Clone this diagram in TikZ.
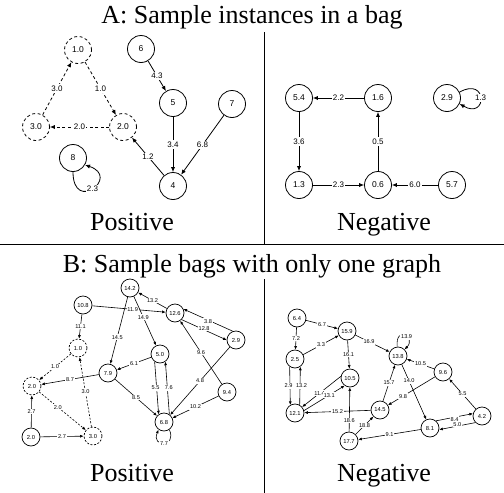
\documentclass[tikz,border=0pt]{standalone}
\usepackage{fontspec}
\setmainfont{Liberation Serif}
\newfontfamily\lblfont{Liberation Sans}
\usetikzlibrary{arrows.meta}
\begin{document}
\begin{tikzpicture}[x=1pt,y=-1pt,
 bignode/.style={circle,draw,line width=0.8pt,minimum size=27pt,inner sep=0pt,font=\lblfont\fontsize{8.5}{9}\selectfont},
 bigdash/.style={bignode,dash pattern=on 3pt off 2.5pt},
 smallnode/.style={circle,draw,line width=0.7pt,minimum size=18pt,inner sep=0pt,font=\lblfont\fontsize{5.8}{6}\selectfont},
 smalldash/.style={smallnode,dash pattern=on 2pt off 1.6pt},
 bigedge/.style={line width=0.8pt,-{Latex[length=5pt,width=4.2pt]}},
 bigdline/.style={bigedge,dash pattern=on 3pt off 2.5pt},
 smalledge/.style={line width=0.6pt,-{Latex[length=3.6pt,width=3pt]}},
 smalldline/.style={smalledge,dash pattern=on 2pt off 1.6pt},
 biglbl/.style={fill=white,inner sep=1.2pt,font=\lblfont\fontsize{8}{9}\selectfont},
 smalllbl/.style={fill=white,inner sep=0.8pt,font=\lblfont\fontsize{5.6}{6}\selectfont},
 title/.style={font=\fontsize{26}{28}\selectfont,anchor=base,inner sep=0pt},
 frame/.style={line width=0.8pt}
]
\useasboundingbox (0,0) rectangle (504,493);
% titles and frame
\node[title] (ta) at (252,23) {A: Sample instances in a bag};
\node[title] (pa) at (132,230) {Positive};
\node[title] (na) at (384,230) {Negative};
\node[title] (tb) at (252,272) {B: Sample bags with only one graph};
\node[title] (pb) at (132,481) {Positive};
\node[title] (nb) at (384,481) {Negative};
\coordinate (h1) at (0,244); \coordinate (h2) at (504,244);
\coordinate (v1t) at (264,32); \coordinate (v1b) at (264,244);
\coordinate (v2t) at (264,279); \coordinate (v2b) at (264,493);
\draw[frame] (h1) -- (h2);
\draw[frame] (v1t) -- (v1b);
\draw[frame] (v2t) -- (v2b);

% ---- A positive
\node[bigdash] (a10) at (78,50) {1.0};
\node[bigdash] (a30) at (36,127) {3.0};
\node[bigdash] (a20) at (123,127) {2.0};
\node[bignode] (a6) at (141,49) {6};
\node[bignode] (a5) at (173,103) {5};
\node[bignode] (a7) at (232,104) {7};
\node[bignode] (a8) at (73,158) {8};
\node[bignode] (a4) at (173,186) {4};
\draw[bigdline] (a30) -- node[biglbl]{3.0} (a10);
\draw[bigdline] (a10) -- node[biglbl]{1.0} (a20);
\draw[bigdline] (a20) -- node[biglbl]{2.0} (a30);
\draw[bigedge] (a6) -- node[biglbl]{4.3} (a5);
\draw[bigedge] (a5) -- node[biglbl]{3.4} (a4);
\draw[bigedge] (a7) -- node[biglbl]{6.8} (a4);
\draw[bigedge] (a4) -- node[biglbl]{1.2} (a20);
\draw[bigedge] (a8.-90) .. controls +(0,42) and +(36,12) .. node[biglbl]{2.3} (a8.-30);

% ---- A negative
\node[bignode] (b54) at (299,98) {5.4};
\node[bignode] (b16) at (378,98) {1.6};
\node[bignode] (b29) at (447,98) {2.9};
\node[bignode] (b13) at (299,185) {1.3};
\node[bignode] (b06) at (378,185) {0.6};
\node[bignode] (b57) at (452,185) {5.7};
\draw[bigedge] (b16) -- node[biglbl]{2.2} (b54);
\draw[bigedge] (b54) -- node[biglbl]{3.6} (b13);
\draw[bigedge] (b13) -- node[biglbl]{2.3} (b06);
\draw[bigedge] (b06) -- node[biglbl]{0.5} (b16);
\draw[bigedge] (b57) -- node[biglbl]{6.0} (b06);
\draw[bigedge] (b29.25) .. controls +(28,-16) and +(28,16) .. node[biglbl]{1.3} (b29.-25);

% ---- B positive
\node[smallnode] (c108) at (83,305) {10.8};
\node[smallnode] (c142) at (130,288) {14.2};
\node[smalldash] (c10) at (78,348) {1.0};
\node[smalldash] (c20d) at (32,386) {2.0};
\node[smallnode] (c79) at (108,373) {7.9};
\node[smallnode] (c20) at (31,437) {2.0};
\node[smalldash] (c30) at (93,436) {3.0};
\node[smallnode] (c126) at (175,313) {12.6};
\node[smallnode] (c50) at (160,354) {5.0};
\node[smallnode] (c29) at (236,340) {2.9};
\node[smallnode] (c94) at (227,392) {9.4};
\node[smallnode] (c68) at (164,422) {6.8};
\draw[smalledge] (c108) -- node[smalllbl,pos=0.55]{11.9} (c126);
\draw[smalledge] (c108) -- node[smalllbl]{11.1} (c10);
\draw[smalledge] (c142) -- node[smalllbl,pos=0.6]{14.5} (c79);
\draw[smalledge] (c142) -- node[smalllbl,pos=0.42]{14.9} (c50);
\draw[smalledge] (c126) -- node[smalllbl]{13.2} (c142);
\draw[smalledge] (c29.110) -- node[smalllbl,yshift=-1pt]{3.8} (c126.25);
\draw[smalledge] (c126.-45) -- node[smalllbl,yshift=1.5pt]{12.8} (c29.180);
\draw[smalledge] (c94) -- node[smalllbl]{9.6} (c126);
\draw[smalledge] (c29) -- node[smalllbl]{4.8} (c68);
\draw[smalledge] (c94) -- node[smalllbl]{10.2} (c68);
\draw[smalledge] (c50) -- node[smalllbl]{6.1} (c79);
\draw[smalledge] (c50.-125) -- node[smalllbl,xshift=-1pt]{5.5} (c68.125);
\draw[smalledge] (c68.55) -- node[smalllbl,xshift=1.5pt]{7.6} (c50.-55);
\draw[smalledge] (c79) -- node[smalllbl]{8.5} (c68);
\draw[smalledge] (c68.-55) .. controls +(8,18) and +(-8,18) .. node[smalllbl]{7.7} (c68.-125);
\draw[smalledge] (c79) -- node[smalllbl]{8.7} (c20d);
\draw[smalldline] (c10) -- node[smalllbl]{1.0} (c20d);
\draw[smalldline] (c30) -- node[smalllbl]{3.0} (c10);
\draw[smalldline] (c20d) -- node[smalllbl,pos=0.4]{2.0} (c30);
\draw[smalledge] (c20) -- node[smalllbl]{2.7} (c20d);
\draw[smalledge] (c20) -- node[smalllbl]{2.7} (c30);

% ---- B negative
\node[smallnode] (d64) at (297,318) {6.4};
\node[smallnode] (d159) at (347,331) {15.9};
\node[smallnode] (d25) at (295,359) {2.5};
\node[smallnode] (d105) at (350,378) {10.5};
\node[smallnode] (d121) at (295,413) {12.1};
\node[smallnode] (d145) at (380,410) {14.5};
\node[smallnode] (d177) at (349,441) {17.7};
\node[smallnode] (d138) at (398,356) {13.8};
\node[smallnode] (d96) at (443,372) {9.6};
\node[smallnode] (d81) at (430,428) {8.1};
\node[smallnode] (d42) at (482,416) {4.2};
\draw[smalledge] (d64) -- node[smalllbl]{6.7} (d159);
\draw[smalledge] (d64) -- node[smalllbl]{7.2} (d25);
\draw[smalledge] (d25) -- node[smalllbl]{3.3} (d159);
\draw[smalledge] (d159) -- node[smalllbl]{16.1} (d105);
\draw[smalledge] (d159) -- node[smalllbl,pos=0.4]{16.9} (d138);
\draw[smalledge] (d25.-125) -- node[smalllbl,xshift=-1.5pt]{2.9} (d121.120);
\draw[smalledge] (d121.60) -- node[smalllbl,xshift=1.5pt]{13.2} (d25.-55);
\draw[smalledge] (d105.170) -- node[smalllbl,pos=0.55]{11.4} (d121.40);
\draw[smalledge] (d121.15) -- node[smalllbl,pos=0.62]{13.1} (d105.-125);
\draw[smalledge] (d145) -- node[smalllbl]{15.2} (d121);
\draw[smalledge] (d177) -- node[smalllbl,pos=0.25]{18.6} (d105);
\draw[smalledge] (d177) -- node[smalllbl]{18.8} (d145);
\draw[smalledge] (d145) -- node[smalllbl]{15.7} (d138);
\draw[smalledge] (d81) -- node[smalllbl]{9.1} (d177);
\draw[smalledge] (d138.95) .. controls +(-2,-22) and +(12,-12) .. node[smalllbl,pos=0.6]{13.9} (d138.45);
\draw[smalledge] (d96) -- node[smalllbl]{10.5} (d138);
\draw[smalledge] (d138) -- node[smalllbl,pos=0.3]{14.0} (d81);
\draw[smalledge] (d96) -- node[smalllbl,pos=0.68]{9.8} (d145);
\draw[smalledge] (d42) -- node[smalllbl]{5.5} (d96);
\draw[smalledge] (d81.50) -- node[smalllbl,yshift=-2pt]{8.4} (d42.165);
\draw[smalledge] (d42.-135) -- node[smalllbl,yshift=2pt]{5.0} (d81.-10);
\end{tikzpicture}
\end{document}
